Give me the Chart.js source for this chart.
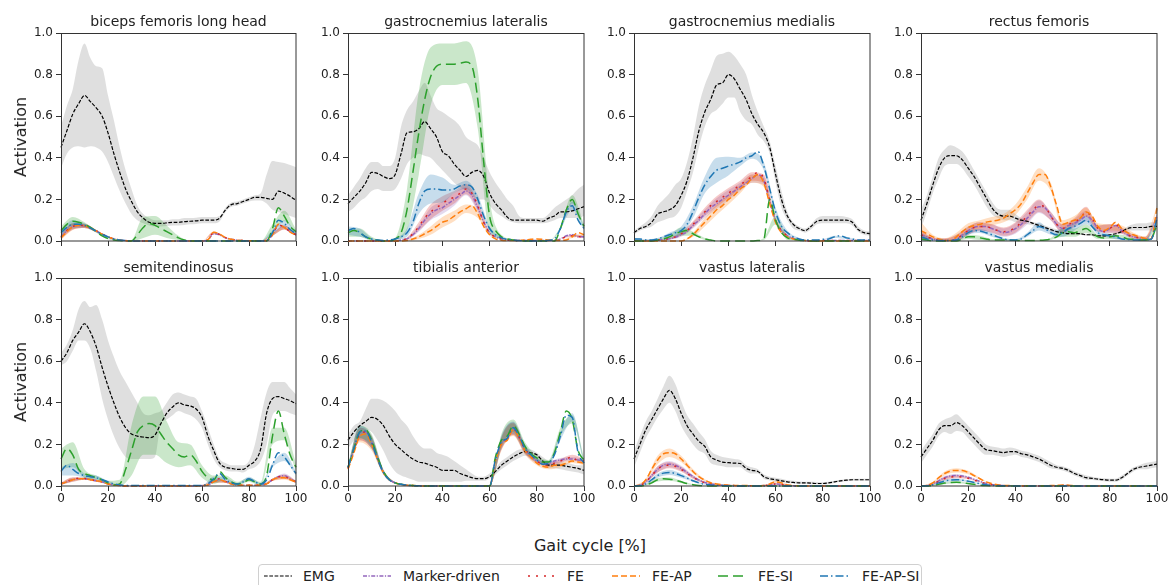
<!DOCTYPE html>
<html><head><meta charset="utf-8">
<script src="https://cdn.jsdelivr.net/npm/chart.js@4.4.1/dist/chart.umd.min.js"></script>
<style>
html,body{margin:0;padding:0;background:#fff;}
body{width:1169px;height:585px;overflow:hidden;position:relative;font-family:"DejaVu Sans",sans-serif;color:#222;}
canvas{position:absolute;}
.t{position:absolute;white-space:nowrap;transform:translate(-50%,-50%);line-height:1;}
.leg{position:absolute;left:258px;top:564px;width:664px;height:34px;border:1px solid #d0d0d0;border-radius:4px;box-sizing:border-box;}
.lt{position:absolute;font-size:14px;white-space:nowrap;transform:translateY(-50%);line-height:1;}
</style></head>
<body>
<script>
// ---------- x grids ----------
const X = [0,2.5,5,7.5,10,12.5,15,17.5,20,22.5,25,27.5,30,32.5,35,37.5,40,42.5,45,47.5,50,52.5,55,57.5,60,62.5,65,67.5,70,72.5,75,77.5,80,82.5,85,87.5,90,92.5,95,97.5,100];
const X5 = [0,5,10,15,20,25,30,35,40,45,50,55,60,65,70,75,80,85,90,95,100];
const X_TICKS = [0,20,40,60,80,100];
const Y_TICKS = [0,0.2,0.4,0.6,0.8,1.0];

// ---------- biceps femoris long head ----------
const BF_EMG    = [0.45,0.53,0.61,0.66,0.70, 0.67,0.64,0.60,0.52,0.42, 0.33,0.25,0.19,0.14,0.11, 0.09,0.085,0.085,0.087,0.09, 0.09,0.093,0.095,0.097,0.10, 0.10,0.10,0.11,0.15,0.175, 0.18,0.19,0.20,0.21,0.21, 0.205,0.20,0.24,0.23,0.215, 0.195];
const BF_EMG_HI = [0.55,0.65,0.73,0.87,0.95, 0.88,0.84,0.83,0.70,0.58, 0.45,0.34,0.25,0.17,0.13, 0.11,0.10,0.10,0.10,0.105, 0.105,0.11,0.11,0.112,0.115, 0.115,0.115,0.12,0.16,0.185, 0.19,0.20,0.21,0.22,0.23, 0.32,0.385,0.38,0.375,0.365, 0.355];
const BF_EMG_LO = [0.35,0.42,0.45,0.455,0.45, 0.455,0.45,0.43,0.38,0.31, 0.24,0.18,0.13,0.10,0.085, 0.075,0.07,0.07,0.072,0.075, 0.075,0.077,0.08,0.082,0.085, 0.085,0.085,0.095,0.14,0.165, 0.17,0.18,0.19,0.195,0.195, 0.18,0.15,0.14,0.13,0.12, 0.11];
const BF_MD     = [0.02,0.05,0.07,0.075,0.072, 0.062,0.048,0.033,0.02,0.01, 0.005,0.002,0,0,0, 0,0,0,0,0, 0,0,0,0,0, 0.005,0.035,0.03,0.015,0.008, 0.004,0.002,0.001,0.001,0.001, 0.002,0.03,0.075,0.065,0.045, 0.03];
const BF_FE     = [0.02,0.05,0.07,0.076,0.073, 0.063,0.049,0.034,0.02,0.01, 0.005,0.002,0,0,0, 0,0,0,0,0, 0,0,0,0,0, 0.006,0.04,0.032,0.016,0.008, 0.004,0.002,0.001,0.001,0.001, 0.002,0.03,0.078,0.066,0.045, 0.03];
const BF_FEAP   = [0.015,0.045,0.068,0.075,0.072, 0.062,0.048,0.033,0.02,0.01, 0.005,0.002,0,0,0, 0,0,0,0,0, 0,0,0,0,0, 0.006,0.042,0.033,0.017,0.008, 0.004,0.002,0.001,0.001,0.001, 0.002,0.03,0.08,0.065,0.043, 0.028];
const BF_FESI   = [0.05,0.08,0.095,0.09,0.08, 0.065,0.045,0.025,0.012,0.005, 0.002,0,0,0.03,0.065, 0.085,0.075,0.06,0.045,0.03, 0.015,0.005,0,0,0, 0,0,0,0,0, 0,0,0,0,0, 0,0.06,0.16,0.12,0.07, 0.045];
const BF_FEAPSI = [0.04,0.065,0.08,0.08,0.075, 0.062,0.047,0.032,0.02,0.01, 0.005,0.002,0,0,0, 0,0,0,0,0, 0,0,0,0,0, 0,0,0,0,0, 0,0,0,0,0, 0.002,0.04,0.1,0.085,0.055, 0.035];
const BF_SD_MD     = [0.01,0.015,0.01,0.005,0, 0,0,0,0,0, 0,0,0,0.005,0, 0,0,0,0.005,0.01, 0.005];
const BF_SD_FE     = [0.01,0.015,0.01,0.005,0, 0,0,0,0,0, 0,0,0,0.005,0, 0,0,0,0.005,0.01, 0.005];
const BF_SD_FEAP   = [0.01,0.015,0.01,0.005,0, 0,0,0,0,0, 0,0,0,0.005,0, 0,0,0,0.005,0.01, 0.005];
const BF_SD_FESI   = [0.02,0.02,0.01,0.005,0.003, 0,0.005,0.05,0.045,0.03, 0.01,0,0,0,0, 0,0,0,0.02,0.025, 0.01];
const BF_SD_FEAPSI = [0.015,0.02,0.01,0.005,0, 0,0,0,0,0, 0,0,0,0,0, 0,0,0,0.01,0.015, 0.01];

// ---------- gastrocnemius lateralis ----------
const GL_EMG    = [0.18,0.21,0.24,0.28,0.33, 0.325,0.31,0.30,0.32,0.42, 0.52,0.525,0.54,0.574,0.54, 0.50,0.43,0.41,0.37,0.34, 0.31,0.33,0.34,0.31,0.23, 0.18,0.15,0.115,0.10,0.10, 0.10,0.10,0.10,0.095,0.11, 0.12,0.14,0.14,0.145,0.155, 0.165];
const GL_EMG_HI = [0.22,0.26,0.30,0.35,0.38, 0.38,0.36,0.36,0.40,0.55, 0.63,0.67,0.72,0.76,0.70, 0.64,0.62,0.60,0.58,0.55, 0.50,0.48,0.46,0.40,0.33, 0.28,0.24,0.20,0.17,0.12, 0.11,0.11,0.11,0.11,0.13, 0.16,0.18,0.20,0.22,0.25, 0.27];
const GL_EMG_LO = [0.14,0.16,0.19,0.21,0.24, 0.25,0.24,0.24,0.25,0.30, 0.37,0.40,0.42,0.41,0.40, 0.37,0.34,0.31,0.28,0.26, 0.24,0.22,0.20,0.20,0.17, 0.14,0.12,0.10,0.09,0.085, 0.085,0.085,0.085,0.085,0.09, 0.10,0.11,0.11,0.11,0.11, 0.12];
const GL_MD     = [0,0,0,0,0, 0,0,0,0,0.005, 0.01,0.03,0.06,0.1,0.13, 0.15,0.16,0.18,0.2,0.22, 0.24,0.22,0.16,0.09,0.04, 0.02,0.01,0.005,0.003,0.002, 0.002,0.002,0.002,0.002,0.002, 0.002,0.01,0.025,0.03,0.02, 0.02];
const GL_FE     = [0,0,0,0,0, 0,0,0,0,0.005, 0.012,0.035,0.07,0.11,0.14, 0.16,0.18,0.2,0.21,0.23, 0.25,0.23,0.17,0.09,0.04, 0.02,0.01,0.005,0.003,0.002, 0.002,0.002,0.002,0.002,0.002, 0.002,0.01,0.02,0.025,0.02, 0.02];
const GL_FEAP   = [0,0,0,0,0, 0,0,0,0,0, 0.002,0.01,0.02,0.035,0.05, 0.07,0.09,0.1,0.12,0.14, 0.155,0.17,0.13,0.07,0.03, 0.01,0.003,0.002,0.002,0.003, 0.005,0.008,0.01,0.008,0.005, 0.003,0.003,0.005,0.02,0.04, 0.03];
const GL_FESI   = [0.04,0.05,0.04,0.02,0.01, 0.005,0,0,0.01,0.04, 0.15,0.33,0.52,0.68,0.79, 0.84,0.85,0.85,0.85,0.855, 0.86,0.84,0.68,0.38,0.12, 0.05,0.02,0.01,0.005,0, 0,0,0,0,0, 0,0.06,0.15,0.2,0.13, 0.07];
const GL_FEAPSI = [0.05,0.06,0.04,0.02,0.01, 0.005,0.003,0.005,0.01,0.02, 0.04,0.09,0.18,0.24,0.25, 0.25,0.245,0.245,0.25,0.265, 0.27,0.26,0.2,0.12,0.06, 0.03,0.015,0.008,0.005,0.002, 0,0,0,0,0.003, 0.01,0.06,0.14,0.17,0.1, 0.06];
const GL_SD_MD     = [0,0,0,0,0, 0.005,0.015,0.03,0.03,0.03, 0.02,0.02,0.005,0,0, 0,0,0,0,0.005, 0.005];
const GL_SD_FE     = [0,0,0,0,0, 0.005,0.02,0.035,0.035,0.03, 0.025,0.02,0.005,0,0, 0,0,0,0,0.005, 0.005];
const GL_SD_FEAP   = [0,0,0,0,0, 0.003,0.01,0.02,0.025,0.025, 0.02,0.02,0.005,0,0, 0,0,0,0,0.005, 0.005];
const GL_SD_FESI   = [0.02,0.02,0.01,0,0.005, 0.1,0.2,0.14,0.1,0.1, 0.1,0.14,0.08,0.01,0.005, 0,0,0,0.01,0.02, 0.01];
const GL_SD_FEAPSI = [0.02,0.02,0.005,0,0.005, 0.02,0.05,0.07,0.06,0.02, 0.02,0.02,0.01,0.005,0, 0,0,0,0.005,0.02, 0.01];

// ---------- gastrocnemius medialis ----------
const GM_EMG    = [0.04,0.06,0.07,0.09,0.13, 0.14,0.15,0.17,0.22,0.29, 0.40,0.53,0.62,0.68,0.75, 0.76,0.80,0.78,0.73,0.68, 0.61,0.56,0.52,0.45,0.32, 0.20,0.12,0.08,0.06,0.05, 0.07,0.095,0.10,0.10,0.10, 0.10,0.10,0.09,0.055,0.04, 0.035];
const GM_EMG_HI = [0.05,0.07,0.09,0.12,0.17, 0.20,0.23,0.27,0.30,0.38, 0.50,0.65,0.75,0.82,0.89, 0.90,0.91,0.89,0.85,0.80, 0.70,0.62,0.55,0.48,0.36, 0.24,0.14,0.09,0.07,0.06, 0.08,0.11,0.12,0.12,0.12, 0.12,0.115,0.105,0.07,0.05, 0.045];
const GM_EMG_LO = [0.03,0.05,0.06,0.07,0.09, 0.10,0.11,0.12,0.16,0.24, 0.33,0.45,0.55,0.61,0.63, 0.66,0.69,0.69,0.62,0.58, 0.56,0.51,0.48,0.42,0.28, 0.16,0.10,0.06,0.05,0.04, 0.055,0.08,0.085,0.085,0.085, 0.085,0.085,0.075,0.045,0.03, 0.025];
const GM_MD     = [0,0,0,0,0.004, 0.007,0.011,0.018,0.03,0.045, 0.075,0.10,0.13,0.16,0.18, 0.20,0.22,0.24,0.26,0.28, 0.30,0.32,0.29,0.19,0.10, 0.05,0.025,0.012,0.005,0.002, 0,0,0.002,0.003,0.003, 0.003,0.003,0.003,0.002,0.002, 0.002];
const GM_FE     = [0,0,0,0,0.005, 0.008,0.012,0.02,0.035,0.05, 0.08,0.11,0.14,0.17,0.19, 0.21,0.23,0.25,0.27,0.29, 0.31,0.33,0.30,0.20,0.10, 0.05,0.025,0.012,0.005,0.002, 0,0,0.002,0.003,0.003, 0.003,0.003,0.003,0.002,0.002, 0.002];
const GM_FEAP   = [0,0,0,0,0, 0,0,0,0,0.01, 0.03,0.06,0.09,0.12,0.15, 0.17,0.20,0.22,0.25,0.27, 0.30,0.32,0.28,0.18,0.09, 0.04,0.02,0.01,0.005,0.002, 0,0,0,0,0, 0,0,0,0,0, 0];
const GM_FESI   = [0,0,0,0,0.005, 0.01,0.02,0.035,0.045,0.05, 0.035,0.02,0.01,0.005,0, 0,0,0,0,0, 0,0.002,0.01,0.20,0.10, 0.04,0.015,0.008,0.004,0.002, 0,0,0,0,0, 0,0,0,0,0, 0];
const GM_FEAPSI = [0.01,0.01,0.005,0.005,0.01, 0.02,0.03,0.04,0.05,0.08, 0.14,0.21,0.27,0.31,0.34, 0.35,0.36,0.37,0.38,0.40, 0.41,0.43,0.36,0.25,0.14, 0.07,0.04,0.02,0.01,0.005, 0.005,0.005,0.008,0.01,0.02, 0.025,0.015,0.01,0.005,0.005, 0.005];
const GM_SD_MD     = [0,0,0,0.005,0.01, 0.015,0.02,0.025,0.025,0.02, 0.02,0.02,0.01,0.005,0, 0,0,0,0,0, 0];
const GM_SD_FE     = [0,0,0,0.005,0.01, 0.015,0.02,0.025,0.025,0.02, 0.02,0.02,0.01,0.005,0, 0,0,0,0,0, 0];
const GM_SD_FEAP   = [0,0,0,0,0, 0.01,0.02,0.025,0.025,0.02, 0.02,0.02,0.01,0.005,0, 0,0,0,0,0, 0];
const GM_SD_FESI   = [0,0,0.005,0.01,0.02, 0.01,0.005,0,0,0, 0,0.005,0.02,0.01,0, 0,0,0,0,0, 0];
const GM_SD_FEAPSI = [0.005,0.005,0.005,0.01,0.02, 0.03,0.04,0.06,0.045,0.02, 0.015,0.02,0.02,0.01,0.005, 0,0,0.005,0.005,0, 0];

// ---------- rectus femoris ----------
const RF_EMG    = [0.10,0.18,0.27,0.35,0.40, 0.41,0.41,0.39,0.35,0.31, 0.26,0.21,0.16,0.13,0.12, 0.12,0.11,0.10,0.095,0.085, 0.075,0.065,0.055,0.045,0.04, 0.035,0.035,0.035,0.03,0.03, 0.025,0.025,0.03,0.035,0.045, 0.06,0.065,0.065,0.065,0.07, 0.07];
const RF_EMG_HI = [0.15,0.22,0.31,0.40,0.44, 0.46,0.45,0.43,0.39,0.34, 0.29,0.24,0.19,0.155,0.15, 0.15,0.13,0.11,0.10,0.09, 0.085,0.075,0.065,0.055,0.045, 0.04,0.04,0.04,0.035,0.035, 0.03,0.03,0.035,0.04,0.05, 0.07,0.08,0.085,0.085,0.09, 0.09];
const RF_EMG_LO = [0.06,0.14,0.23,0.30,0.36, 0.37,0.37,0.35,0.31,0.27, 0.22,0.17,0.13,0.11,0.10, 0.10,0.09,0.085,0.08,0.075, 0.065,0.055,0.045,0.04,0.035, 0.03,0.03,0.03,0.025,0.025, 0.02,0.02,0.025,0.03,0.04, 0.05,0.05,0.05,0.05,0.05, 0.05];
const RF_MD     = [0.03,0.02,0.01,0.005,0.002, 0.002,0.01,0.03,0.05,0.065, 0.07,0.07,0.06,0.05,0.04, 0.045,0.06,0.08,0.11,0.14, 0.165,0.16,0.12,0.08,0.06, 0.075,0.085,0.1,0.12,0.1, 0.06,0.045,0.06,0.075,0.05, 0.03,0.02,0.015,0.01,0.01, 0.12];
const RF_FE     = [0.03,0.02,0.01,0.005,0.002, 0.002,0.01,0.03,0.05,0.065, 0.07,0.07,0.06,0.05,0.045, 0.05,0.065,0.09,0.12,0.15, 0.17,0.165,0.12,0.08,0.06, 0.08,0.09,0.11,0.14,0.11, 0.06,0.045,0.06,0.08,0.05, 0.03,0.02,0.015,0.01,0.01, 0.12];
const RF_FEAP   = [0.05,0.035,0.02,0.01,0.003, 0.002,0.02,0.045,0.065,0.075, 0.08,0.09,0.095,0.10,0.11, 0.13,0.15,0.18,0.23,0.28, 0.32,0.32,0.26,0.17,0.08, 0.09,0.10,0.11,0.14,0.12, 0.07,0.05,0.065,0.09,0.06, 0.04,0.03,0.02,0.012,0.01, 0.16];
const RF_FESI   = [0.01,0.005,0,0,0, 0,0,0.01,0.02,0.02, 0.015,0.01,0.005,0.005,0.005, 0.005,0.003,0.002,0.002,0.002, 0.003,0.005,0.01,0.02,0.04, 0.045,0.04,0.05,0.06,0.04, 0.02,0.015,0.02,0.025,0.02, 0.01,0.008,0.005,0.005,0.01, 0.08];
const RF_FEAPSI = [0.02,0.01,0.005,0.003,0.003, 0.003,0.005,0.02,0.04,0.05, 0.048,0.04,0.03,0.02,0.01, 0.005,0.005,0.01,0.03,0.05, 0.07,0.06,0.04,0.03,0.04, 0.06,0.07,0.085,0.1,0.07, 0.04,0.03,0.025,0.02,0.01, 0.008,0.005,0.005,0.005,0.008, 0.11];
const RF_SD_MD     = [0.02,0.005,0.01,0.02,0.02, 0.02,0.02,0.02,0.025,0.03, 0.03,0.02,0.02,0.02,0.025, 0.015,0.02,0.015,0.01,0.01, 0.01];
const RF_SD_FE     = [0.02,0.005,0.01,0.02,0.02, 0.02,0.02,0.02,0.025,0.03, 0.03,0.02,0.02,0.02,0.025, 0.015,0.02,0.015,0.01,0.01, 0.01];
const RF_SD_FEAP   = [0.04,0.01,0.01,0.02,0.02, 0.02,0.02,0.02,0.025,0.03, 0.03,0.02,0.02,0.02,0.02, 0.015,0.015,0.015,0.01,0.01, 0.01];
const RF_SD_FESI   = [0.01,0,0,0,0.01, 0.01,0.005,0.005,0.003,0.003, 0.003,0.005,0.02,0.02,0.02, 0.01,0.01,0.01,0.005,0.005, 0.01];
const RF_SD_FEAPSI = [0.02,0.005,0.003,0.005,0.01, 0.01,0.01,0.005,0.005,0.01, 0.02,0.01,0.02,0.02,0.02, 0.01,0.01,0.005,0.005,0.005, 0.01];

// ---------- semitendinosus ----------
const ST_EMG    = [0.60,0.64,0.70,0.74,0.78, 0.74,0.67,0.57,0.48,0.40, 0.33,0.28,0.25,0.24,0.235, 0.232,0.245,0.30,0.35,0.38, 0.40,0.39,0.385,0.37,0.33, 0.24,0.17,0.11,0.09,0.085, 0.08,0.08,0.10,0.12,0.18, 0.35,0.42,0.43,0.42,0.41, 0.395];
const ST_EMG_HI = [0.64,0.68,0.75,0.85,0.89, 0.86,0.87,0.80,0.70,0.62, 0.55,0.50,0.45,0.40,0.35, 0.34,0.35,0.36,0.40,0.44, 0.45,0.44,0.43,0.42,0.36, 0.28,0.20,0.13,0.11,0.10, 0.10,0.10,0.12,0.20,0.33, 0.45,0.50,0.50,0.50,0.47, 0.44];
const ST_EMG_LO = [0.58,0.60,0.65,0.70,0.70, 0.66,0.55,0.42,0.32,0.24, 0.18,0.14,0.13,0.13,0.13, 0.13,0.14,0.30,0.32,0.34, 0.36,0.35,0.34,0.32,0.28, 0.20,0.13,0.09,0.075,0.07, 0.07,0.065,0.08,0.09,0.12, 0.20,0.34,0.36,0.36,0.35, 0.34];
const ST_MD     = [0.01,0.02,0.03,0.035,0.035, 0.03,0.025,0.02,0.01,0.005, 0.002,0,0,0,0, 0,0,0,0,0, 0,0,0,0,0.002, 0.005,0.02,0.03,0.02,0.01, 0.005,0.004,0.004,0.004,0.005, 0.01,0.03,0.045,0.05,0.035, 0.02];
const ST_FE     = [0.012,0.022,0.032,0.037,0.036, 0.031,0.026,0.02,0.01,0.005, 0.002,0,0,0,0, 0,0,0,0,0, 0,0,0,0,0.002, 0.006,0.025,0.035,0.022,0.01, 0.005,0.004,0.004,0.004,0.005, 0.01,0.03,0.045,0.045,0.032, 0.02];
const ST_FEAP   = [0.01,0.02,0.03,0.035,0.035, 0.03,0.025,0.02,0.01,0.005, 0.002,0,0,0,0, 0,0,0,0,0, 0,0,0,0,0.002, 0.005,0.02,0.03,0.02,0.01, 0.005,0.004,0.004,0.004,0.005, 0.01,0.03,0.04,0.04,0.03, 0.02];
const ST_FESI   = [0.13,0.18,0.15,0.08,0.06, 0.05,0.04,0.03,0.015,0.005, 0.01,0.08,0.17,0.26,0.29, 0.30,0.29,0.25,0.21,0.18, 0.15,0.14,0.15,0.12,0.07, 0.04,0.03,0.07,0.04,0.02, 0.01,0.015,0.03,0.02,0.01, 0.05,0.24,0.36,0.25,0.15, 0.09];
const ST_FEAPSI = [0.07,0.10,0.08,0.06,0.05, 0.045,0.04,0.03,0.02,0.01, 0.005,0.002,0.002,0.002,0.002, 0.002,0.002,0.002,0.002,0.002, 0.002,0.002,0.002,0.002,0.003, 0.01,0.035,0.06,0.03,0.015, 0.01,0.02,0.035,0.02,0.01, 0.03,0.1,0.16,0.14,0.1, 0.06];
const ST_SD_MD     = [0.005,0.01,0.005,0.005,0, 0,0,0,0,0, 0,0,0,0.005,0.005, 0,0,0,0.005,0.01, 0.005];
const ST_SD_FE     = [0.005,0.01,0.005,0.005,0, 0,0,0,0,0, 0,0,0,0.005,0.005, 0,0,0,0.005,0.01, 0.005];
const ST_SD_FEAP   = [0.005,0.01,0.005,0.005,0, 0,0,0,0,0, 0,0,0,0.005,0.005, 0,0,0,0.005,0.01, 0.005];
const ST_SD_FESI   = [0.05,0.06,0.02,0.01,0.01, 0.02,0.12,0.14,0.14,0.1, 0.06,0.05,0.03,0.02,0.01, 0.01,0.01,0.01,0.04,0.03, 0.02];
const ST_SD_FEAPSI = [0.02,0.03,0.01,0.01,0.005, 0,0,0,0,0, 0,0,0,0.01,0.01, 0.005,0.01,0.005,0.01,0.02, 0.01];

// ---------- tibialis anterior ----------
const TA_EMG    = [0.22,0.26,0.29,0.31,0.33, 0.32,0.29,0.24,0.20,0.175, 0.15,0.13,0.115,0.11,0.10, 0.09,0.075,0.075,0.075,0.06, 0.05,0.04,0.035,0.035,0.045, 0.07,0.10,0.12,0.14,0.155, 0.165,0.16,0.15,0.12,0.10, 0.10,0.10,0.095,0.09,0.085, 0.075];
const TA_EMG_HI = [0.25,0.29,0.31,0.37,0.42, 0.42,0.41,0.39,0.36,0.32, 0.29,0.24,0.20,0.18,0.18, 0.16,0.15,0.14,0.12,0.10, 0.08,0.06,0.045,0.045,0.06, 0.085,0.12,0.14,0.16,0.175, 0.18,0.175,0.16,0.14,0.12, 0.115,0.115,0.11,0.105,0.10, 0.10];
const TA_EMG_LO = [0.18,0.22,0.26,0.27,0.26, 0.22,0.17,0.11,0.07,0.05, 0.04,0.03,0.02,0.02,0.02, 0.02,0.02,0.02,0.02,0.02, 0.025,0.025,0.025,0.025,0.035, 0.055,0.08,0.10,0.12,0.135, 0.145,0.14,0.125,0.10,0.085, 0.085,0.08,0.075,0.07,0.065, 0.055];
const TA_MD     = [0.085,0.17,0.25,0.26,0.21, 0.135,0.067,0.03,0.015,0.008, 0.004,0.002,0.001,0,0, 0,0,0,0,0, 0,0,0,0,0, 0.125,0.205,0.225,0.275,0.235, 0.175,0.145,0.12,0.105,0.11, 0.12,0.125,0.13,0.13,0.125, 0.12];
const TA_FE     = [0.085,0.17,0.25,0.26,0.21, 0.135,0.067,0.03,0.015,0.008, 0.004,0.002,0.001,0,0, 0,0,0,0,0, 0,0,0,0,0, 0.125,0.205,0.225,0.275,0.235, 0.175,0.145,0.12,0.105,0.1, 0.11,0.12,0.13,0.14,0.12, 0.12];
const TA_FEAP   = [0.08,0.16,0.24,0.25,0.2, 0.13,0.065,0.03,0.015,0.008, 0.004,0.002,0.001,0,0, 0,0,0,0,0, 0,0,0,0,0, 0.12,0.2,0.22,0.27,0.23, 0.17,0.14,0.11,0.095,0.09, 0.1,0.1,0.11,0.12,0.115, 0.11];
const TA_FESI   = [0.09,0.18,0.26,0.27,0.22, 0.14,0.07,0.03,0.015,0.008, 0.004,0.002,0.001,0,0, 0,0,0,0,0, 0,0,0,0,0, 0.14,0.22,0.24,0.29,0.25, 0.19,0.155,0.135,0.115,0.115, 0.16,0.26,0.36,0.32,0.17, 0.125];
const TA_FEAPSI = [0.09,0.18,0.26,0.265,0.21, 0.13,0.065,0.03,0.015,0.008, 0.004,0.002,0.001,0,0, 0,0,0,0,0, 0,0,0,0,0, 0.13,0.21,0.23,0.28,0.24, 0.18,0.15,0.125,0.105,0.11, 0.15,0.24,0.34,0.33,0.16, 0.11];
const TA_SD_MD     = [0.01,0.03,0.03,0.01,0.003, 0,0,0,0,0, 0,0,0,0.03,0.03, 0.02,0.01,0.01,0.01,0.01, 0.01];
const TA_SD_FE     = [0.01,0.03,0.03,0.01,0.003, 0,0,0,0,0, 0,0,0,0.03,0.03, 0.02,0.01,0.01,0.01,0.01, 0.01];
const TA_SD_FEAP   = [0.01,0.03,0.03,0.01,0.003, 0,0,0,0,0, 0,0,0,0.03,0.03, 0.02,0.01,0.01,0.01,0.01, 0.01];
const TA_SD_FESI   = [0.01,0.03,0.03,0.01,0.003, 0,0,0,0,0, 0,0,0,0.03,0.03, 0.02,0.01,0.01,0.02,0.02, 0.01];
const TA_SD_FEAPSI = [0.01,0.03,0.03,0.01,0.003, 0,0,0,0,0, 0,0,0,0.03,0.03, 0.02,0.01,0.01,0.02,0.02, 0.01];

// ---------- vastus lateralis ----------
const VL_EMG    = [0.13,0.20,0.27,0.32,0.37, 0.42,0.46,0.42,0.35,0.29, 0.25,0.215,0.19,0.14,0.125, 0.115,0.112,0.11,0.108,0.085, 0.075,0.07,0.045,0.035,0.03, 0.025,0.02,0.017,0.015,0.015, 0.014,0.012,0.012,0.015,0.02, 0.025,0.028,0.03,0.03,0.03, 0.03];
const VL_EMG_HI = [0.17,0.24,0.31,0.36,0.42, 0.48,0.53,0.49,0.41,0.34, 0.30,0.26,0.225,0.17,0.15, 0.14,0.135,0.13,0.125,0.10, 0.09,0.08,0.055,0.045,0.04, 0.035,0.028,0.025,0.022,0.021, 0.02,0.019,0.018,0.02,0.025, 0.03,0.033,0.035,0.035,0.035, 0.035];
const VL_EMG_LO = [0.09,0.16,0.23,0.28,0.33, 0.37,0.40,0.36,0.29,0.24, 0.20,0.17,0.155,0.11,0.10, 0.095,0.09,0.09,0.09,0.07, 0.06,0.06,0.035,0.027,0.022, 0.018,0.014,0.012,0.01,0.01, 0.009,0.008,0.007,0.01,0.015, 0.02,0.023,0.025,0.025,0.025, 0.025];
const VL_MD     = [0,0.003,0.02,0.05,0.08, 0.1,0.105,0.1,0.085,0.065, 0.045,0.028,0.017,0.01,0.006, 0.004,0.003,0.002,0.001,0.001, 0.001,0.001,0.002,0.005,0.01, 0.008,0.003,0.001,0,0, 0,0,0,0,0, 0,0,0,0,0, 0];
const VL_FE     = [0,0.003,0.02,0.05,0.08, 0.098,0.1,0.095,0.08,0.06, 0.042,0.026,0.016,0.01,0.006, 0.004,0.003,0.002,0.001,0.001, 0.001,0.001,0.002,0.005,0.01, 0.008,0.003,0.001,0,0, 0,0,0,0,0, 0,0,0,0,0, 0];
const VL_FEAP   = [0,0.005,0.03,0.08,0.125, 0.155,0.16,0.155,0.13,0.1, 0.07,0.045,0.028,0.016,0.01, 0.006,0.004,0.003,0.002,0.002, 0.001,0.001,0.002,0.01,0.02, 0.015,0.005,0.002,0.001,0, 0,0,0,0,0, 0,0,0,0,0, 0];
const VL_FESI   = [0,0,0.005,0.015,0.03, 0.035,0.033,0.028,0.02,0.012, 0.006,0.002,0.001,0,0, 0,0,0,0,0, 0,0,0,0,0, 0,0,0,0,0, 0,0,0,0,0, 0,0,0,0,0, 0];
const VL_FEAPSI = [0,0.002,0.01,0.03,0.05, 0.062,0.065,0.06,0.05,0.038, 0.025,0.015,0.008,0.005,0.003, 0.002,0.001,0,0,0, 0,0,0,0,0, 0,0,0,0,0, 0,0,0,0,0, 0,0,0,0,0, 0];
const VL_SD_MD     = [0,0.005,0.015,0.015,0.012, 0.008,0.004,0.002,0,0, 0,0,0.003,0.003,0, 0,0,0,0,0, 0];
const VL_SD_FE     = [0,0.005,0.015,0.015,0.012, 0.008,0.004,0.002,0,0, 0,0,0.003,0.003,0, 0,0,0,0,0, 0];
const VL_SD_FEAP   = [0,0.005,0.02,0.02,0.015, 0.01,0.005,0.003,0,0, 0,0,0.005,0.005,0, 0,0,0,0,0, 0];
const VL_SD_FESI   = [0,0.003,0.008,0.008,0.005, 0.002,0,0,0,0, 0,0,0,0,0, 0,0,0,0,0, 0];
const VL_SD_FEAPSI = [0,0.003,0.01,0.012,0.01, 0.005,0.002,0,0,0, 0,0,0,0,0, 0,0,0,0,0, 0];

// ---------- vastus medialis ----------
const VM_EMG    = [0.14,0.18,0.22,0.27,0.29, 0.29,0.305,0.29,0.26,0.23, 0.20,0.175,0.17,0.165,0.16, 0.165,0.165,0.155,0.15,0.14, 0.13,0.115,0.10,0.09,0.085, 0.075,0.06,0.05,0.04,0.037, 0.033,0.03,0.028,0.028,0.04, 0.06,0.08,0.09,0.095,0.10, 0.105];
const VM_EMG_HI = [0.17,0.21,0.25,0.30,0.32, 0.33,0.345,0.32,0.29,0.26, 0.23,0.20,0.19,0.185,0.18, 0.185,0.18,0.17,0.165,0.155, 0.145,0.13,0.115,0.10,0.095, 0.085,0.07,0.06,0.05,0.045, 0.04,0.037,0.035,0.035,0.05, 0.07,0.09,0.10,0.11,0.115, 0.12];
const VM_EMG_LO = [0.11,0.15,0.19,0.24,0.26, 0.25,0.265,0.26,0.23,0.20, 0.17,0.15,0.15,0.145,0.14, 0.145,0.15,0.14,0.135,0.125, 0.115,0.10,0.085,0.08,0.075, 0.065,0.05,0.04,0.03,0.029, 0.026,0.023,0.021,0.021,0.03, 0.05,0.07,0.08,0.08,0.085, 0.09];
const VM_MD     = [0,0.002,0.01,0.025,0.04, 0.048,0.05,0.048,0.042,0.032, 0.022,0.013,0.007,0.004,0.002, 0.001,0,0,0,0, 0,0,0,0,0.002, 0.002,0,0,0,0, 0,0,0,0,0, 0,0,0,0,0, 0];
const VM_FE     = [0,0.002,0.009,0.022,0.036, 0.043,0.045,0.043,0.037,0.028, 0.019,0.011,0.006,0.003,0.002, 0.001,0,0,0,0, 0,0,0,0,0.002, 0.002,0,0,0,0, 0,0,0,0,0, 0,0,0,0,0, 0];
const VM_FEAP   = [0,0.003,0.015,0.04,0.06, 0.072,0.075,0.074,0.065,0.05, 0.035,0.02,0.012,0.006,0.003, 0.002,0.001,0.001,0.001,0.001, 0.001,0.001,0.002,0.003,0.005, 0.004,0.002,0.001,0,0, 0,0,0,0,0, 0,0,0,0,0, 0];
const VM_FESI   = [0,0,0.003,0.008,0.014, 0.017,0.018,0.016,0.012,0.008, 0.004,0.002,0.001,0,0, 0,0,0,0,0, 0,0,0,0,0, 0,0,0,0,0, 0,0,0,0,0, 0,0,0,0,0, 0];
const VM_FEAPSI = [0,0.001,0.006,0.015,0.024, 0.029,0.03,0.028,0.023,0.017, 0.011,0.006,0.003,0.002,0.001, 0,0,0,0,0, 0,0,0,0,0, 0,0,0,0,0, 0,0,0,0,0, 0,0,0,0,0, 0];
const VM_SD_MD     = [0,0.003,0.008,0.008,0.005, 0.002,0,0,0,0, 0,0,0,0,0, 0,0,0,0,0, 0];
const VM_SD_FE     = [0,0.003,0.008,0.008,0.005, 0.002,0,0,0,0, 0,0,0,0,0, 0,0,0,0,0, 0];
const VM_SD_FEAP   = [0,0.005,0.01,0.01,0.008, 0.004,0,0,0,0, 0,0,0,0,0, 0,0,0,0,0, 0];
const VM_SD_FESI   = [0,0.002,0.005,0.005,0.003, 0,0,0,0,0, 0,0,0,0,0, 0,0,0,0,0, 0];
const VM_SD_FEAPSI = [0,0.003,0.006,0.006,0.004, 0.002,0,0,0,0, 0,0,0,0,0, 0,0,0,0,0, 0];

const TITLES = ['biceps femoris long head','gastrocnemius lateralis','gastrocnemius medialis','rectus femoris',
                'semitendinosus','tibialis anterior','vastus lateralis','vastus medialis'];
const LEGEND_LABELS = ['EMG','Marker-driven','FE','FE-AP','FE-SI','FE-AP-SI'];

// ---------- assembled tables ----------
function M(emg,lo,hi,md,fe,feap,fesi,feapsi,sMD,sFE,sFEAP,sFESI,sFEAPSI){
  return {emg,lo,hi,MD:md,FE:fe,FEAP:feap,FESI:fesi,FEAPSI:feapsi,
          sd:{MD:sMD,FE:sFE,FEAP:sFEAP,FESI:sFESI,FEAPSI:sFEAPSI}};
}
const MUSCLES = [
  M(BF_EMG,BF_EMG_LO,BF_EMG_HI,BF_MD,BF_FE,BF_FEAP,BF_FESI,BF_FEAPSI,BF_SD_MD,BF_SD_FE,BF_SD_FEAP,BF_SD_FESI,BF_SD_FEAPSI),
  M(GL_EMG,GL_EMG_LO,GL_EMG_HI,GL_MD,GL_FE,GL_FEAP,GL_FESI,GL_FEAPSI,GL_SD_MD,GL_SD_FE,GL_SD_FEAP,GL_SD_FESI,GL_SD_FEAPSI),
  M(GM_EMG,GM_EMG_LO,GM_EMG_HI,GM_MD,GM_FE,GM_FEAP,GM_FESI,GM_FEAPSI,GM_SD_MD,GM_SD_FE,GM_SD_FEAP,GM_SD_FESI,GM_SD_FEAPSI),
  M(RF_EMG,RF_EMG_LO,RF_EMG_HI,RF_MD,RF_FE,RF_FEAP,RF_FESI,RF_FEAPSI,RF_SD_MD,RF_SD_FE,RF_SD_FEAP,RF_SD_FESI,RF_SD_FEAPSI),
  M(ST_EMG,ST_EMG_LO,ST_EMG_HI,ST_MD,ST_FE,ST_FEAP,ST_FESI,ST_FEAPSI,ST_SD_MD,ST_SD_FE,ST_SD_FEAP,ST_SD_FESI,ST_SD_FEAPSI),
  M(TA_EMG,TA_EMG_LO,TA_EMG_HI,TA_MD,TA_FE,TA_FEAP,TA_FESI,TA_FEAPSI,TA_SD_MD,TA_SD_FE,TA_SD_FEAP,TA_SD_FESI,TA_SD_FEAPSI),
  M(VL_EMG,VL_EMG_LO,VL_EMG_HI,VL_MD,VL_FE,VL_FEAP,VL_FESI,VL_FEAPSI,VL_SD_MD,VL_SD_FE,VL_SD_FEAP,VL_SD_FESI,VL_SD_FEAPSI),
  M(VM_EMG,VM_EMG_LO,VM_EMG_HI,VM_MD,VM_FE,VM_FEAP,VM_FESI,VM_FEAPSI,VM_SD_MD,VM_SD_FE,VM_SD_FEAP,VM_SD_FESI,VM_SD_FEAPSI)
];

// ---------- styles ----------
const EMG_STYLE = {color:'#000000', dash:[3.7,1.6], width:1.2};
const SERIES = [
  {key:'MD',     color:'#9467bd', dash:[4,1.5,1.2,1.5], order:5},
  {key:'FE',     color:'#d62728', dash:[2,6],           order:4},
  {key:'FEAP',   color:'#ff7f0e', dash:[6,3],           order:3},
  {key:'FESI',   color:'#2ca02c', dash:[10,5],          order:2},
  {key:'FEAPSI', color:'#1f77b4', dash:[8,3,1.5,3],     order:1}
];
function rgba(hex,a){const n=parseInt(hex.slice(1),16);return `rgba(${n>>16&255},${n>>8&255},${n&255},${a})`;}

// ---------- layout ----------
const COL_L=[61,348,634,921], COL_W=[235,236,236,236], ROW_T=[33,278], PH=208;
const YW=52, PT=12, PR=18, XH=28;

Chart.defaults.font.family="'DejaVu Sans', sans-serif";
Chart.defaults.font.size=12;
Chart.defaults.color='#222';

const framePlugin={id:'frame',afterDraw(c){const a=c.chartArea,ctx=c.ctx;ctx.save();ctx.strokeStyle='#333';ctx.lineWidth=1;
  ctx.strokeRect(Math.round(a.left)+0.5,Math.round(a.top)+0.5,Math.round(a.right-a.left)-1+0.5,Math.round(a.bottom-a.top)-0.5);ctx.restore();}};

const pts=arr=>arr.map((y,i)=>({x:X[i],y}));
function band(mean,sd){const u=[],l=[];for(let i=0;i<X5.length;i++){const m=mean[i*2];u.push({x:X5[i],y:m+sd[i]});l.push({x:X5[i],y:Math.max(0,m-sd[i])});}return [u,l];}

function build(idx){
  const m=MUSCLES[idx], r=Math.floor(idx/4), c=idx%4;
  const L=COL_L[c], W=COL_W[c], T=ROW_T[r];
  const cv=document.createElement('canvas');
  const cw=W+YW+PR, ch=PH+PT+XH;
  cv.width=cw; cv.height=ch; cv.style.left=(L-YW)+'px'; cv.style.top=(T-PT)+'px';
  cv.style.width=cw+'px'; cv.style.height=ch+'px';
  document.body.appendChild(cv);
  const ds=[];
  const bandDs=(data,fill,bg,order)=>({data,borderWidth:0,borderColor:'rgba(0,0,0,0)',pointRadius:0,fill,backgroundColor:bg,order,cubicInterpolationMode:'monotone',clip:3});
  ds.push(bandDs(pts(m.hi),'+1','rgba(128,128,128,0.25)',30));
  ds.push(bandDs(pts(m.lo),false,'rgba(0,0,0,0)',30));
  SERIES.forEach((s,k)=>{const [u,l]=band(m[s.key],m.sd[s.key]);
    ds.push(bandDs(u,'+1',rgba(s.color,0.25),20-k));
    ds.push(bandDs(l,false,'rgba(0,0,0,0)',20-k));});
  ds.push({data:pts(m.emg),borderColor:EMG_STYLE.color,borderDash:EMG_STYLE.dash,borderWidth:EMG_STYLE.width,pointRadius:0,fill:false,order:6,cubicInterpolationMode:'monotone',clip:3});
  SERIES.forEach(s=>ds.push({data:pts(m[s.key]),borderColor:s.color,borderDash:s.dash,borderWidth:1.5,pointRadius:0,fill:false,order:s.order,cubicInterpolationMode:'monotone',clip:3}));
  new Chart(cv,{type:'line',data:{datasets:ds},plugins:[framePlugin],options:{
    responsive:false,animation:false,devicePixelRatio:1,
    layout:{padding:{left:0,right:PR,top:PT,bottom:0}},
    plugins:{legend:{display:false},tooltip:{enabled:false}},
    scales:{
      x:{type:'linear',min:0,max:100,afterFit(s){s.height=XH;},border:{display:false},
         grid:{drawOnChartArea:false,drawTicks:true,tickLength:5,color:'#333'},
         afterBuildTicks(s){s.ticks=X_TICKS.map(v=>({value:v}));},
         ticks:{padding:1,color:'#222',maxRotation:0,autoSkip:false,callback:v=>r===1?String(v):''}},
      y:{min:0,max:1,afterFit(s){s.width=YW;},border:{display:false},
         grid:{drawOnChartArea:false,drawTicks:true,tickLength:5,color:'#333'},
         afterBuildTicks(s){s.ticks=Y_TICKS.map(v=>({value:v}));},
         ticks:{padding:3,color:'#222',callback:v=>Number(v).toFixed(1)}}
    }}});
  const t=document.createElement('div');t.className='t';t.style.fontSize='14px';
  t.style.left=(L+W/2)+'px';t.style.top=(r===0?21:267)+'px';t.textContent=TITLES[idx];document.body.appendChild(t);
  if(c===0){const a=document.createElement('div');a.className='t';a.style.fontSize='16px';
    a.style.left='21px';a.style.top=(T+PH/2)+'px';a.style.transform='translate(-50%,-50%) rotate(-90deg)';a.textContent='Activation';document.body.appendChild(a);}
}
for(let i=0;i<8;i++) build(i);

// x label
const gx=document.createElement('div');gx.className='t';gx.style.fontSize='16px';gx.style.left='590px';gx.style.top='546px';gx.textContent='Gait cycle [%]';document.body.appendChild(gx);

// legend
const leg=document.createElement('div');leg.className='leg';document.body.appendChild(leg);
const LEG_POS=[[264,303],[363,403],[528,567],[612,652],[718,758],[820,862]];
const LEG_STYLE=[EMG_STYLE].concat(SERIES.map(s=>({color:s.color,dash:s.dash,width:1.5})));
LEGEND_LABELS.forEach((lab,i)=>{
  const st=LEG_STYLE[i],[lx,tx]=LEG_POS[i];
  const c=document.createElement('canvas');c.width=30;c.height=6;c.style.left=lx+'px';c.style.top='573px';
  document.body.appendChild(c);const g=c.getContext('2d');g.strokeStyle=st.color;g.lineWidth=st.width;g.setLineDash(st.dash);
  g.beginPath();g.moveTo(0,3);g.lineTo(28,3);g.stroke();
  const d=document.createElement('div');d.className='lt';d.style.left=tx+'px';d.style.top='576px';d.textContent=lab;document.body.appendChild(d);
});
</script>
</body></html>
